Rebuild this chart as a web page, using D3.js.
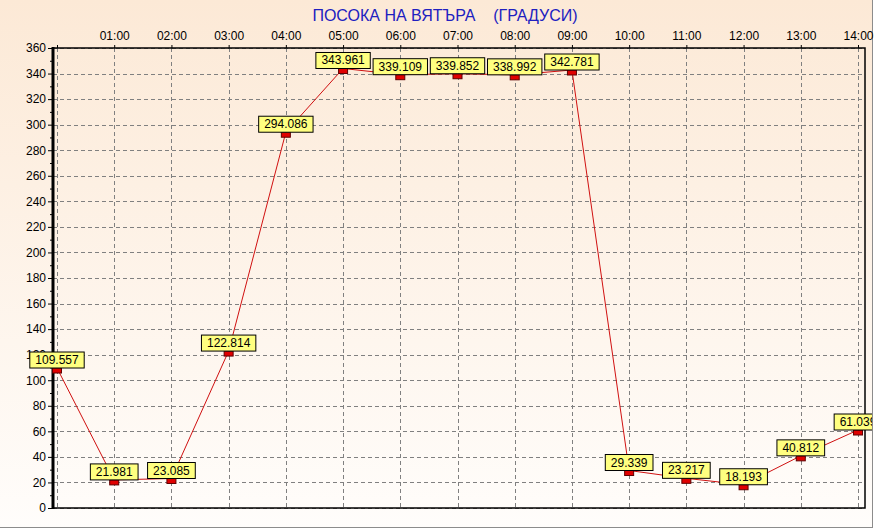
<!DOCTYPE html>
<html>
<head>
<meta charset="utf-8">
<script src="https://cdn.jsdelivr.net/npm/d3@7"></script>
<style>
  body { margin: 0; background: #ffffff; }
  text { font-family: "Liberation Sans", Arial, sans-serif; }
</style>
</head>
<body>
<div id="chart"></div>
<script>
// hours on the x axis, wind direction in degrees
var hours = [0, 1, 2, 3, 4, 5, 6, 7, 8, 9, 10, 11, 12, 13, 14];
var hourLabels = ["", "01:00", "02:00", "03:00", "04:00", "05:00", "06:00", "07:00",
                  "08:00", "09:00", "10:00", "11:00", "12:00", "13:00", "14:00"];
var direction = [109.557, 21.981, 23.085, 122.814, 294.086, 343.961, 339.109, 339.852,
                 338.992, 342.781, 29.339, 23.217, 18.193, 40.812, 61.039];
var yTicks = [0, 20, 40, 60, 80, 100, 120, 140, 160, 180, 200, 220, 240, 260, 280, 300, 320, 340, 360];
var title = "ПОСОКА НА ВЯТЪРА    (ГРАДУСИ)";

var width = 874, height = 529;
var plotLeft = 53, plotRight = 865, plotTop = 48, plotBottom = 508;

var svg = d3.select("#chart").append("svg")
    .attr("width", width)
    .attr("height", height);

// peach to white background
var defs = svg.append("defs");
var grad = defs.append("linearGradient")
    .attr("id", "bg").attr("x1", 0).attr("y1", 0).attr("x2", 0).attr("y2", 1);
grad.append("stop").attr("offset", "0%").attr("stop-color", "#fce9d6");
grad.append("stop").attr("offset", "100%").attr("stop-color", "#fffdfb");
defs.append("clipPath").attr("id", "frame")
    .append("rect").attr("x", 0).attr("y", 0).attr("width", 872).attr("height", 527);

svg.append("rect")
    .attr("width", 872).attr("height", 527)
    .attr("fill", "url(#bg)");

// window frame lines
svg.append("line").attr("x1", 872.5).attr("x2", 872.5).attr("y1", 0).attr("y2", 528)
    .attr("stroke", "#8c8c8c");
svg.append("line").attr("x1", 0).attr("x2", 873).attr("y1", 527.5).attr("y2", 527.5)
    .attr("stroke", "#8c8c8c");

var x = d3.scaleLinear().domain([0, 14]).range([57, 858]);
var y = d3.scaleLinear().domain([0, 360]).range([plotBottom, plotTop]);

// grid
svg.append("g").selectAll("line")
    .data(yTicks)
    .enter().append("line")
    .attr("x1", plotLeft).attr("x2", plotRight)
    .attr("y1", function(d) { return Math.round(y(d)) + 0.5; })
    .attr("y2", function(d) { return Math.round(y(d)) + 0.5; })
    .attr("stroke", "#808080")
    .attr("stroke-dasharray", "4,3");
svg.append("g").selectAll("line")
    .data(hours)
    .enter().append("line")
    .attr("y1", plotTop).attr("y2", plotBottom)
    .attr("x1", function(d) { return Math.round(x(d)) + 0.5; })
    .attr("x2", function(d) { return Math.round(x(d)) + 0.5; })
    .attr("stroke", "#808080")
    .attr("stroke-dasharray", "4,3");

// y axis with minor ticks
var yAxis = svg.append("g")
    .attr("transform", "translate(" + plotLeft + ",0)")
    .call(d3.axisLeft(y).tickValues(yTicks).tickSize(5).tickPadding(2));
yAxis.select(".domain").remove();
yAxis.selectAll("text").attr("font-size", 12).attr("fill", "#000")
    .style("font-family", "'Liberation Sans', Arial, sans-serif");
svg.append("g")
    .attr("transform", "translate(" + plotLeft + ",0)")
    .call(d3.axisLeft(y).tickValues(d3.range(10, 360, 20)).tickSize(3).tickFormat(""))
    .select(".domain").remove();

// x axis along the top
var xAxis = svg.append("g")
    .attr("transform", "translate(0," + plotTop + ")")
    .call(d3.axisTop(x).tickValues(hours).tickSize(3).tickPadding(5)
        .tickFormat(function(d, i) { return hourLabels[i]; }));
xAxis.select(".domain").remove();
xAxis.selectAll("text").attr("font-size", 12).attr("fill", "#000")
    .style("font-family", "'Liberation Sans', Arial, sans-serif");

// frame of the plot
svg.append("rect")
    .attr("x", plotLeft).attr("y", plotTop)
    .attr("width", plotRight - plotLeft).attr("height", plotBottom - plotTop)
    .attr("fill", "none")
    .attr("stroke", "#000")
    .attr("stroke-width", 1.5);
svg.append("line")
    .attr("x1", plotLeft).attr("x2", plotLeft).attr("y1", plotTop - 1).attr("y2", plotBottom + 1)
    .attr("stroke", "#000").attr("stroke-width", 3);

// series line
var line = d3.line()
    .x(function(d, i) { return x(hours[i]); })
    .y(function(d) { return y(d); });
svg.append("path")
    .datum(direction)
    .attr("d", line)
    .attr("fill", "none")
    .attr("stroke", "#d01010")
    .attr("stroke-width", 1);

// markers
svg.append("g").selectAll("rect")
    .data(direction)
    .enter().append("rect")
    .attr("x", function(d, i) { return x(hours[i]) - 4.5; })
    .attr("y", function(d) { return y(d); })
    .attr("width", 9)
    .attr("height", 5)
    .attr("fill", "#e00000")
    .attr("stroke", "#600000")
    .attr("stroke-width", 1);

// value labels
var labels = svg.append("g").attr("clip-path", "url(#frame)")
    .selectAll("g")
    .data(direction)
    .enter().append("g")
    .attr("transform", function(d, i) { return "translate(" + x(hours[i]) + "," + y(d) + ")"; });
var boxes = labels.append("rect");
var texts = labels.append("text")
    .attr("text-anchor", "middle")
    .attr("y", -4)
    .attr("font-size", 12)
    .attr("fill", "#000")
    .text(function(d) { return d3.format(".3f")(d); });
texts.each(function() {
    var w = this.getComputedTextLength() + 11;
    d3.select(this.previousSibling)
        .attr("x", -w / 2)
        .attr("y", -16)
        .attr("width", w)
        .attr("height", 16)
        .attr("fill", "#ffff80")
        .attr("stroke", "#000")
        .attr("stroke-width", 1);
});

// title
svg.append("text")
    .attr("x", 445)
    .attr("y", 21)
    .attr("text-anchor", "middle")
    .attr("font-size", 16)
    .attr("fill", "#2020c0")
    .style("white-space", "pre")
    .text(title);
</script>
</body>
</html>
